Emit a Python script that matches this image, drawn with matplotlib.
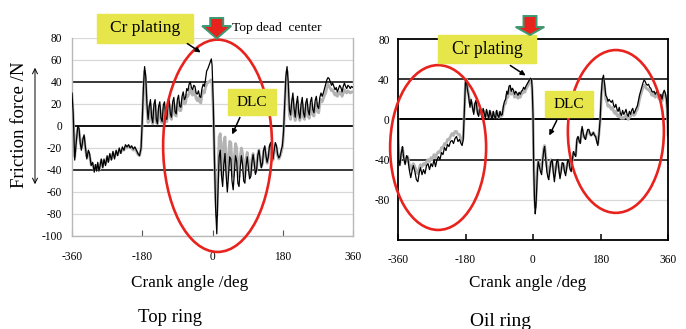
import matplotlib
matplotlib.use("Agg")
import matplotlib.pyplot as plt
from matplotlib.patches import Ellipse, Rectangle, Polygon, FancyArrowPatch

W, H = 686, 329

# Top ring friction force vs crank angle (N)
top_angle = [-360, -357, -353, -349, -345, -342, -339, -336, -332, -329, -326, -322, -318, -315, -311, -307,
             -303, -300, -297, -294, -291, -288, -285, -281, -278, -274, -270, -267, -263, -259, -255, -251,
             -247, -243, -239, -235, -231, -227, -223, -219, -215, -211, -207, -203, -199, -195, -191, -187,
             -183, -180, -177, -174, -171, -168, -165, -162, -159, -156, -153, -150, -147, -144, -141, -138,
             -135, -132, -129, -126, -123, -120, -117, -114, -111, -108, -105, -102, -99, -96, -93, -90,
             -87, -84, -81, -78, -75, -72, -69, -66, -63, -60, -57, -54, -51, -48, -45, -42,
             -39, -36, -33, -30, -27, -24, -21, -18, -15, -12, -9, -6, -3, -1, 2, 5,
             8, 11, 14, 17, 20, 23, 26, 29, 32, 35, 38, 41, 44, 47, 50, 53,
             56, 59, 62, 65, 68, 71, 74, 77, 80, 83, 86, 89, 92, 95, 98, 101,
             104, 107, 110, 113, 116, 119, 122, 125, 128, 131, 134, 137, 140, 143, 146, 149,
             152, 155, 158, 161, 164, 167, 170, 173, 176, 179, 182, 185, 188, 191, 194, 197,
             200, 203, 206, 209, 212, 215, 218, 221, 224, 227, 230, 233, 236, 239, 242, 245,
             248, 251, 254, 257, 260, 263, 266, 269, 272, 275, 278, 281, 284, 287, 290, 293,
             296, 299, 302, 305, 308, 311, 314, 317, 320, 323, 326, 329, 332, 335, 338, 341,
             344, 347, 350, 353, 356, 360]
top_cr = [30, 12, -31, -14, 0, -2, -15, -22, -12, -8, -18, -30, -22, -25, -36, -33,
          -42, -35, -41, -33, -41, -36, -30, -38, -30, -36, -27, -33, -25, -31, -23, -30,
          -22, -27, -20, -25, -19, -22, -17, -19, -17, -20, -18, -21, -19, -22, -25, -27,
          -20, 5, 35, 54, 45, 20, 6, 18, 24, 8, 3, 20, 24, 6, 2, 18,
          22, 7, 4, 19, 22, 9, 6, 20, 24, 11, 8, 22, 26, 13, 11, 24,
          28, 18, 17, 27, 31, 24, 26, 34, 32, 38, 40, 35, 33, 37, 36, 30,
          29, 32, 27, 26, 34, 38, 36, 42, 50, 52, 55, 58, 61, 55, 20, -30,
          -75, -98, -60, -28, -22, -45, -55, -35, -25, -45, -60, -45, -28, -30, -50, -58,
          -42, -27, -32, -52, -55, -38, -27, -35, -50, -52, -36, -28, -38, -48, -46, -33,
          -26, -34, -44, -40, -27, -22, -30, -38, -34, -22, -18, -27, -33, -28, -18, -15,
          -24, -30, -22, -15, -18, -26, -29, -27, -22, -18, -5, 20, 45, 54, 40, 15,
          10, 22, 30, 16, 8, 20, 27, 12, 7, 20, 26, 12, 8, 21, 25, 14,
          10, 22, 26, 15, 12, 23, 27, 18, 16, 26, 30, 27, 30, 34, 38, 42,
          44, 43, 40, 37, 39, 36, 33, 35, 31, 34, 37, 35, 31, 36, 39, 36,
          34, 37, 36, 34, 36, 35]
top_dlc = [28, 10, -28, -12, -2, -4, -14, -20, -12, -10, -20, -28, -24, -27, -35, -35,
           -40, -37, -39, -35, -40, -38, -31, -36, -32, -34, -29, -32, -27, -30, -25, -28,
           -24, -26, -22, -24, -21, -22, -19, -20, -18, -19, -20, -22, -20, -23, -26, -27,
           -21, 3, 30, 50, 40, 16, 3, 15, 20, 5, 2, 15, 19, 3, 2, 14,
           18, 4, 3, 15, 17, 5, 4, 16, 20, 8, 6, 18, 20, 10, 9, 20,
           22, 14, 14, 22, 26, 20, 21, 28, 27, 30, 34, 30, 28, 32, 30, 25,
           23, 26, 22, 21, 28, 32, 30, 35, 38, 40, 40, 41, 42, 38, 15, -30,
           -65, -82, -45, -10, -7, -30, -45, -15, -10, -30, -48, -30, -14, -15, -35, -46,
           -28, -16, -20, -40, -46, -28, -20, -25, -42, -46, -30, -24, -32, -44, -44, -30,
           -25, -32, -42, -40, -26, -22, -30, -37, -34, -23, -20, -28, -34, -29, -20, -17,
           -25, -31, -24, -17, -20, -27, -30, -28, -24, -20, -8, 18, 40, 50, 36, 10,
           6, 16, 25, 10, 5, 14, 22, 8, 5, 14, 20, 8, 6, 15, 20, 9,
           7, 16, 20, 10, 9, 18, 21, 13, 12, 20, 24, 22, 25, 28, 30, 35,
           38, 36, 34, 32, 33, 30, 28, 30, 27, 29, 31, 30, 27, 30, 33, 31,
           30, 32, 31, 30, 31, 31]

# Oil ring friction force vs crank angle (N)
oil_angle = [-360, -358, -355, -352, -348, -345, -341, -337, -334, -330, -326, -322, -319, -315, -311, -307,
             -303, -300, -296, -292, -288, -284, -280, -276, -272, -268, -264, -260, -256, -252, -248, -244,
             -240, -236, -232, -228, -224, -220, -216, -212, -208, -204, -200, -196, -192, -189, -186, -183,
             -180, -178, -175, -172, -168, -165, -162, -158, -155, -152, -148, -145, -142, -139, -136, -133,
             -130, -127, -124, -121, -118, -115, -112, -109, -106, -103, -100, -97, -94, -91, -88, -85,
             -82, -79, -76, -73, -70, -67, -64, -61, -58, -55, -52, -49, -46, -43, -40, -37,
             -34, -31, -28, -25, -22, -19, -16, -13, -10, -7, -4, -2, 0, 2, 4, 6,
             8, 10, 12, 14, 17, 20, 23, 26, 29, 31, 34, 37, 40, 42, 45, 48,
             51, 54, 57, 60, 63, 66, 69, 72, 75, 78, 81, 84, 87, 90, 93, 96,
             99, 102, 105, 108, 111, 114, 117, 120, 123, 126, 129, 131, 134, 137, 140, 143,
             146, 149, 152, 155, 158, 161, 164, 167, 170, 173, 176, 179, 182, 185, 188, 191,
             194, 197, 200, 203, 206, 209, 212, 215, 218, 221, 224, 227, 230, 233, 236, 239,
             242, 245, 248, 251, 254, 257, 260, 263, 266, 269, 272, 275, 278, 281, 284, 287,
             290, 293, 296, 299, 302, 305, 308, 311, 314, 317, 320, 323, 326, 329, 332, 335,
             338, 341, 344, 347, 350, 353, 356, 358, 360]
oil_cr = [0, -40, -46, -35, -27, -38, -45, -36, -38, -50, -58, -50, -46, -52, -60, -62,
          -52, -48, -55, -50, -54, -46, -44, -50, -44, -47, -40, -47, -40, -37, -40, -33,
          -35, -28, -31, -25, -27, -22, -21, -24, -19, -17, -22, -20, -24, -26, -20, 10,
          38, 40, 30, 24, 12, 20, 13, 5, 16, 19, 6, 3, 12, 8, 2, 11,
          6, 1, 10, 5, 1, 9, 4, 0, 8, 3, 1, 9, 4, 2, 8, 4,
          5, 13, 18, 20, 28, 25, 33, 34, 28, 31, 29, 25, 28, 26, 24, 27,
          25, 28, 29, 32, 30, 33, 35, 37, 39, 41, 40, 30, 5, -50, -80, -94,
          -85, -67, -50, -42, -47, -52, -55, -40, -30, -27, -40, -52, -58, -60, -50, -42,
          -40, -52, -62, -52, -42, -40, -50, -59, -52, -43, -44, -52, -56, -48, -40, -42,
          -50, -52, -40, -32, -35, -37, -20, -17, -21, -24, -12, -7, -14, -18, -20, -14,
          -10, -10, -14, -16, -15, -13, -16, -17, -22, -26, -15, 0, 25, 40, 44, 35,
          24, 22, 18, 20, 18, 17, 19, 14, 12, 15, 10, 8, 12, 6, 4, 9,
          5, 7, 10, 5, 3, 8, 5, 9, 11, 6, 8, 11, 13, 18, 24, 28,
          32, 36, 39, 38, 35, 34, 35, 32, 31, 28, 27, 28, 25, 27, 29, 24,
          22, 25, 20, 26, 29, 26, 20, 10, -17]
oil_dlc = [0, -38, -44, -36, -28, -36, -43, -38, -37, -45, -50, -46, -44, -47, -52, -54,
           -48, -45, -47, -44, -45, -42, -40, -42, -38, -40, -35, -38, -34, -32, -33, -28,
           -28, -24, -25, -20, -20, -17, -14, -16, -12, -12, -15, -15, -20, -22, -18, 8,
           36, 40, 33, 26, 16, 18, 15, 8, 13, 16, 8, 5, 10, 7, 4, 9,
           5, 3, 8, 4, 2, 8, 3, 2, 7, 3, 2, 8, 3, 2, 7, 3,
           4, 11, 15, 16, 24, 22, 30, 31, 25, 27, 26, 22, 24, 23, 21, 24,
           22, 25, 26, 28, 27, 30, 32, 34, 37, 40, 39, 28, 5, -45, -75, -88,
           -80, -62, -48, -42, -44, -48, -50, -38, -28, -26, -36, -46, -52, -56, -48, -40,
           -42, -48, -56, -50, -44, -42, -48, -54, -50, -44, -44, -50, -52, -47, -42, -43,
           -48, -48, -40, -33, -34, -35, -22, -18, -22, -23, -14, -10, -16, -18, -19, -15,
           -12, -12, -15, -16, -14, -13, -15, -17, -20, -24, -14, -2, 20, 36, 40, 32,
           20, 17, 13, 14, 12, 10, 12, 8, 6, 8, 4, 3, 5, 2, 1, 2,
           1, 3, 4, 2, 0, 2, 3, 5, 6, 4, 5, 8, 10, 14, 20, 24,
           28, 31, 34, 33, 31, 30, 30, 28, 27, 24, 24, 25, 22, 24, 26, 21,
           20, 22, 18, 24, 27, 24, 18, 10, -15]

x_ticks = [-360, -180, 0, 180, 360]
top_yticks = [-100, -80, -60, -40, -20, 0, 20, 40, 60, 80]
oil_yticks = [-80, -40, 0, 40, 80]

plt.rcParams['font.family'] = ['Liberation Serif', 'DejaVu Serif']
plt.rcParams['axes.unicode_minus'] = False

RED = '#e8231e'
YELLOW = '#e6e64a'
GREEN = '#3b9a72'

fig = plt.figure(figsize=(W / 100, H / 100), dpi=100)


# pixel helpers (origin top-left)
def fx(x):
    return x / W


def fy(y):
    return 1 - y / H


def box(l, t, r, b):
    return [fx(l), fy(b), (r - l) / W, (b - t) / H]


def label_box(l, t, r, b, text, size):
    fig.add_artist(Rectangle((fx(l), fy(b)), (r - l) / W, (b - t) / H,
                             transform=fig.transFigure, color=YELLOW, zorder=5))
    fig.text(fx((l + r) / 2), fy((t + b) / 2), text, fontsize=size,
             ha='center', va='center', zorder=6)


def pointer(x0, y0, x1, y1):
    fig.add_artist(FancyArrowPatch((fx(x0), fy(y0)), (fx(x1), fy(y1)),
                                   transform=fig.transFigure, arrowstyle='-|>',
                                   mutation_scale=7, lw=1.1, color='black', zorder=6))


def tdc_arrow(cx, top, shaft_bot, tip, half_shaft, half_head):
    pts = [(cx - half_shaft, top), (cx + half_shaft, top), (cx + half_shaft, shaft_bot),
           (cx + half_head, shaft_bot), (cx, tip), (cx - half_head, shaft_bot),
           (cx - half_shaft, shaft_bot)]
    fig.add_artist(Polygon([(fx(x), fy(y)) for x, y in pts], closed=True,
                           transform=fig.transFigure, facecolor=RED,
                           edgecolor=GREEN, lw=1.4, zorder=7))


# ---- Top ring ----
ax1 = fig.add_axes(box(72, 38, 353, 236))
for v in top_yticks:
    if v in (40, 0, -40):
        ax1.axhline(v, color='black', lw=1.3 if v == 0 else 1.1, zorder=1)
    else:
        ax1.axhline(v, color='#d8d8d8', lw=0.9, zorder=1)
ax1.plot(top_angle, top_dlc, color='#b3b3b3', lw=2.0, zorder=2)
ax1.plot(top_angle, top_cr, color='black', lw=0.9, zorder=3)
ax1.set_xlim(-360, 360)
ax1.set_ylim(-100, 80)
ax1.set_xticks(x_ticks)
ax1.set_yticks(top_yticks)
ax1.tick_params(axis='x', direction='in', length=4, color='#555555', labelsize=8.3, pad=11)
ax1.tick_params(axis='y', length=0, labelsize=8.3, pad=7)
for s in ('left', 'bottom', 'right'):
    ax1.spines[s].set_color('#b8b8b8')
    ax1.spines[s].set_linewidth(1.0)
ax1.spines['top'].set_visible(False)
ax1.add_patch(Ellipse((13, -18), 279, 193, fill=False, edgecolor=RED, lw=1.9,
                      clip_on=False, zorder=4))

fig.text(fx(20), fy(125), 'Friction force /N', rotation=90, fontsize=13.5,
         ha='center', va='center')
fig.add_artist(FancyArrowPatch((fx(35), fy(187)), (fx(35), fy(65)),
                               transform=fig.transFigure, arrowstyle='<->',
                               mutation_scale=9, lw=0.7, color='black'))
fig.text(fx(190), fy(283), 'Crank angle /deg', fontsize=12.3, ha='center', va='center')
fig.text(fx(170), fy(318), 'Top ring', fontsize=13.5, ha='center', va='center')

label_box(97, 14, 193, 43, 'Cr plating', 12.5)
pointer(185, 42, 203, 54)
label_box(228, 89, 276, 115, 'DLC', 11)
pointer(241, 115, 231, 137)
tdc_arrow(216.7, 18, 26, 38.5, 6.5, 14.5)
fig.text(fx(232), fy(28), 'Top dead  center', fontsize=9.7, ha='left', va='center')

# ---- Oil ring ----
ax2 = fig.add_axes(box(398, 39, 668, 240))
for v in oil_yticks[:-1]:
    if v in (40, 0, -40):
        ax2.axhline(v, color='black', lw=1.4 if v == 0 else 1.1, zorder=1)
    else:
        ax2.axhline(v, color='#d8d8d8', lw=0.9, zorder=1)
ax2.plot(oil_angle, oil_dlc, color='#b3b3b3', lw=2.0, zorder=2)
ax2.plot(oil_angle, oil_cr, color='black', lw=0.9, zorder=3)
ax2.set_xlim(-360, 360)
ax2.set_ylim(-120, 80)
ax2.set_xticks(x_ticks)
ax2.set_yticks(oil_yticks)
ax2.tick_params(axis='x', direction='in', length=4, width=1.1, color='black', labelsize=8.3, pad=10)
ax2.tick_params(axis='y', length=0, labelsize=8.3, pad=6)
for s in ax2.spines.values():
    s.set_linewidth(1.3)
ax2.add_patch(Ellipse((-253, -28), 256, 164, fill=False, edgecolor=RED, lw=1.9,
                      clip_on=False, zorder=4))
ax2.add_patch(Ellipse((221, -12), 256, 162, fill=False, edgecolor=RED, lw=1.9,
                      clip_on=False, zorder=4))

fig.text(fx(528), fy(283), 'Crank angle /deg', fontsize=12.3, ha='center', va='center')
fig.text(fx(501), fy(321), 'Oil ring', fontsize=14, ha='center', va='center')

label_box(438, 35, 536, 63, 'Cr plating', 12.7)
pointer(508, 64, 528, 77)
label_box(545, 91, 593, 117, 'DLC', 11)
pointer(558, 118, 548, 138)
tdc_arrow(530, 16, 27, 35, 6.5, 14.3)

fig.savefig('out.png', dpi=100)
